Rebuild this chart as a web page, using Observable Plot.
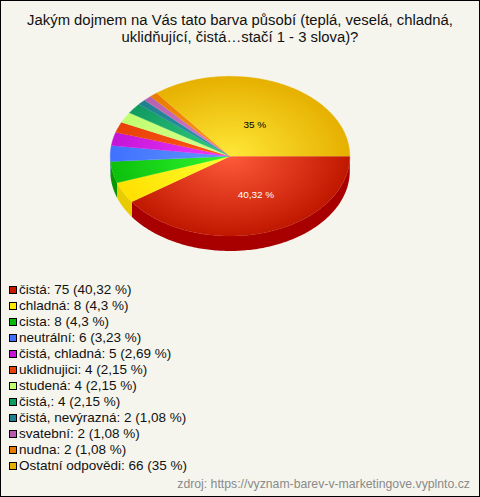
<!DOCTYPE html>
<html><head><meta charset="utf-8">
<script src="https://cdn.jsdelivr.net/npm/d3@7"></script>
<script src="https://cdn.jsdelivr.net/npm/@observablehq/plot@0.6"></script>
<style>
html,body{margin:0;padding:0;background:#f5f5ed}
#chart{position:relative;width:480px;height:497px;box-sizing:border-box;border:1px solid #000;background:#f5f5ed;overflow:hidden;font-family:"Liberation Sans",Arial,sans-serif}
#title{position:absolute;left:0;top:11px;width:478px;text-align:center;font-size:14.85px;line-height:17px;color:#111}
#plot{position:absolute;left:-1px;top:-1px}
#plot svg{background:none;display:block}
#legend{position:absolute;left:8px;top:281px;font-size:13.5px;line-height:16px;color:#111}
#legend div{height:16px;white-space:nowrap}
#legend i{display:inline-block;width:6px;height:6px;border:1px solid #000;margin-right:2px;vertical-align:0}
#source{position:absolute;right:9px;top:476px;font-size:12.25px;color:#8a8a8a}
</style></head><body>
<div id="chart">
<div id="title">Jakým dojmem na Vás tato barva působí (teplá, veselá, chladná,<br>uklidňující, čistá…stačí 1 - 3 slova)?</div>
<div id="plot"></div><div id="legend"></div>
<div id="source">zdroj: https://vyznam-barev-v-marketingove.vyplnto.cz</div>
</div>
<script>
const labels = ["čistá","chladná","cista","neutrální","čistá, chladná","uklidnujici","studená","čistá,","čistá, nevýrazná","svatební","nudna","Ostatní odpovědi"];
const counts = [75,8,8,6,5,4,4,4,2,2,2,66];
const percents = ["40,32","4,3","4,3","3,23","2,69","2,15","2,15","2,15","1,08","1,08","1,08","35"];
const legendColors = ["#c81800","#ffe800","#0ab80a","#4070ff","#c814d8","#e84008","#c0ff70","#0f9a60","#1f7f90","#b85ab0","#e87a00","#e6b000"];
const innerColors = ["#ff5a3a","#ffff30","#30f830","#6098ff","#f038ff","#ff5a18","#d8ff90","#30d080","#3098b0","#d880d0","#ff9a20","#ffe838"];
const outerColors = ["#c01800","#ffe000","#0cc00c","#4070ff","#c414d8","#e84008","#c0ff70","#109a60","#208090","#b860b0","#e87a00","#e6b000"];
const wallColors = ["#a80000","#e6cc00","#0a9600","#3058c0"];
const tilt = 0.667, depth = 0.125;
const total = d3.sum(counts);
let acc = 0;
const slices = counts.map((c,i)=>{const a0=acc/total*2*Math.PI; acc+=c; return {i,a0,a1:acc/total*2*Math.PI};});
const arcAngles = (a0,a1)=>{const n=Math.max(2,Math.ceil((a1-a0)*60)); return d3.range(n+1).map(k=>a0+(a1-a0)*k/n);};
const topFace = s=>[{x:0,y:0},...arcAngles(s.a0,s.a1).map(a=>({x:Math.cos(a),y:Math.sin(a)*tilt}))];
const wallFace = s=>{
  const pts=arcAngles(s.a0,Math.min(s.a1,Math.PI));
  return [...pts.map(a=>({x:Math.cos(a),y:Math.sin(a)*tilt})),...pts.slice().reverse().map(a=>({x:Math.cos(a),y:Math.sin(a)*tilt+depth}))];
};
const labelAt = (i,r)=>{const a=(slices[i].a0+slices[i].a1)/2;return {x:Math.cos(a)*r,y:Math.sin(a)*tilt*r,t:percents[i]+" %"};};
const plotEl = Plot.plot({
  width:480,height:270,margin:0,
  x:{domain:[-1,1],range:[110,350],axis:null},
  y:{domain:[-tilt,tilt],range:[76,236],axis:null},
  marks:[
    ...slices.filter(s=>s.a0<Math.PI).map(s=>Plot.line(wallFace(s),{x:"x",y:"y",fill:wallColors[s.i],stroke:"none"})),
    ...slices.map(s=>Plot.line(topFace(s),{x:"x",y:"y",fill:`url(#g${s.i})`,stroke:`url(#g${s.i})`,strokeWidth:0.4})),
    Plot.text([labelAt(0,0.5)],{x:"x",y:"y",text:"t",fill:"#fff",fontSize:10,fontFamily:"Liberation Sans",dx:8,dy:1}),
    Plot.text([labelAt(11,0.45)],{x:"x",y:"y",text:"t",fill:"#000",fontSize:10,fontFamily:"Liberation Sans",dx:1,dy:1})
  ]
});
const sx=plotEl.scale("x"), sy=plotEl.scale("y");
const cx=sx.apply(0), cy=sy.apply(0), rx=sx.apply(1)-cx, ry=sy.apply(tilt)-cy;
const defs=document.createElementNS("http://www.w3.org/2000/svg","defs");
defs.innerHTML=slices.map(s=>`<radialGradient id="g${s.i}" gradientUnits="userSpaceOnUse" cx="0" cy="0" r="1" gradientTransform="translate(${cx} ${cy}) scale(${rx} ${ry})"><stop offset="0" stop-color="${innerColors[s.i]}"/><stop offset="1" stop-color="${outerColors[s.i]}"/></radialGradient>`).join("");
plotEl.prepend(defs);
document.getElementById("plot").append(plotEl);
const lg=d3.select("#legend");
labels.forEach((l,i)=>{const row=lg.append("div");row.append("i").style("background",legendColors[i]);row.append("span").text(`${l}: ${counts[i]} (${percents[i]} %)`);});
</script>
</body></html>
